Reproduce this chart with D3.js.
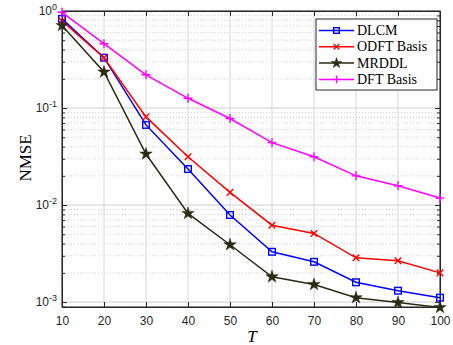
<!DOCTYPE html>
<html>
<head>
<meta charset="utf-8">
<script src="https://cdn.jsdelivr.net/npm/d3@7"></script>
<style>
body { margin: 0; background: #fff; }
svg { display: block; }
</style>
</head>
<body>
<svg id="chart" width="453" height="345"></svg>
<script>
var Tvals = [10, 20, 30, 40, 50, 60, 70, 80, 90, 100];
var dlcm  = [0.83, 0.33, 0.067, 0.0235, 0.0079, 0.0033, 0.0026, 0.0016, 0.00131, 0.00111];
var odft  = [0.79, 0.33, 0.081, 0.0315, 0.0135, 0.0062, 0.0051, 0.00286, 0.00267, 0.0020];
var mrddl = [0.71, 0.235, 0.0336, 0.0082, 0.0039, 0.00182, 0.00152, 0.00111, 0.00099, 0.00088];
var dft   = [0.97, 0.46, 0.22, 0.126, 0.078, 0.044, 0.0315, 0.020, 0.0158, 0.0118];
var seriesNames = ["DLCM", "ODFT Basis", "MRDDL", "DFT Basis"];
var yTickExp = [0, -1, -2, -3];

var series = [
  {name: seriesNames[0], vals: dlcm, color: "#0000ff", marker: "square"},
  {name: seriesNames[1], vals: odft, color: "#ff0000", marker: "x"},
  {name: seriesNames[2], vals: mrddl, color: "#2b2b14", marker: "star"},
  {name: seriesNames[3], vals: dft, color: "#ff00ff", marker: "plus"}
];

var svg = d3.select("#chart");
var pLeft = 62, pRight = 440, pTop = 11, pBottom = 307;

var x = d3.scaleLinear().domain([10, 100]).range([pLeft, pRight]);
var y = d3.scaleLog().domain([0.00089, 1]).range([pBottom, pTop]);

// grid
var g = svg.append("g");
var minors = [];
for (var e = -4; e < 0; e++) {
  for (var m = 2; m <= 9; m++) {
    var v = m * Math.pow(10, e);
    if (v > 0.00089 && v < 1) minors.push(v);
  }
}
g.selectAll(".minor").data(minors).enter().append("line")
  .attr("x1", pLeft).attr("x2", pRight)
  .attr("y1", function(d){ return y(d); }).attr("y2", function(d){ return y(d); })
  .attr("stroke", "#c4c4c4").attr("stroke-width", 0.8).attr("stroke-dasharray", "1,2");
g.selectAll(".majy").data(yTickExp).enter().append("line")
  .attr("x1", pLeft).attr("x2", pRight)
  .attr("y1", function(d){ return y(Math.pow(10, d)); }).attr("y2", function(d){ return y(Math.pow(10, d)); })
  .attr("stroke", "#dedede").attr("stroke-width", 1.5);
g.selectAll(".majx").data(Tvals).enter().append("line")
  .attr("y1", pTop).attr("y2", pBottom)
  .attr("x1", function(d){ return x(d); }).attr("x2", function(d){ return x(d); })
  .attr("stroke", "#dedede").attr("stroke-width", 1.2);

// axes
var xAxis = d3.axisBottom(x).tickValues(Tvals).tickSizeInner(-5).tickSizeOuter(0).tickPadding(9);
var xa = svg.append("g").attr("transform", "translate(0," + pBottom + ")").call(xAxis);
var xTop = d3.axisTop(x).tickValues(Tvals).tickSizeInner(-5).tickSizeOuter(0).tickFormat("");
svg.append("g").attr("transform", "translate(0," + pTop + ")").call(xTop);

var majVals = yTickExp.map(function(d){ return Math.pow(10, d); });
svg.append("g").attr("transform", "translate(" + pLeft + ",0)")
  .call(d3.axisLeft(y).tickValues(majVals).tickSizeInner(-5).tickSizeOuter(0).tickFormat(""));
svg.append("g").attr("transform", "translate(" + pRight + ",0)")
  .call(d3.axisRight(y).tickValues(majVals).tickSizeInner(-5).tickSizeOuter(0).tickFormat(""));
svg.append("g").attr("transform", "translate(" + pLeft + ",0)")
  .call(d3.axisLeft(y).tickValues(minors).tickSizeInner(-3).tickSizeOuter(0).tickFormat(""));
svg.append("g").attr("transform", "translate(" + pRight + ",0)")
  .call(d3.axisRight(y).tickValues(minors).tickSizeInner(-3).tickSizeOuter(0).tickFormat(""));

svg.selectAll(".domain").attr("stroke", "#262626").attr("stroke-width", 1);
svg.selectAll(".tick line").attr("stroke", "#262626");
xa.selectAll("text").attr("font-family", "Liberation Sans, Arial, sans-serif")
  .attr("font-size", 12).attr("fill", "#262626");

// y tick labels 10^e
var yl = svg.append("g");
yTickExp.forEach(function(ex) {
  var t = yl.append("text")
    .attr("x", pLeft - 5).attr("y", y(Math.pow(10, ex)) + 4)
    .attr("text-anchor", "end")
    .attr("font-family", "Liberation Sans, Arial, sans-serif")
    .attr("font-size", 12).attr("fill", "#262626");
  t.append("tspan").text("10");
  t.append("tspan").attr("dy", -5).attr("font-size", 9).text(ex === 0 ? "0" : String(ex));
});

// frame
svg.append("rect").attr("x", pLeft).attr("y", pTop)
  .attr("width", pRight - pLeft).attr("height", pBottom - pTop)
  .attr("fill", "none").attr("stroke", "#262626").attr("stroke-width", 1);

// markers
function drawMarker(sel, type, color, cx, cy, k) {
  k = k || 1;
  if (type === "square") {
    var h = 3.3 * k;
    sel.append("rect").attr("x", cx - h).attr("y", cy - h).attr("width", 2 * h).attr("height", 2 * h)
      .attr("fill", "none").attr("stroke", color).attr("stroke-width", 1.4);
  } else if (type === "x") {
    var a = 3.3 * k;
    sel.append("path").attr("d", "M" + (cx - a) + "," + (cy - a) + "L" + (cx + a) + "," + (cy + a) +
      "M" + (cx - a) + "," + (cy + a) + "L" + (cx + a) + "," + (cy - a))
      .attr("stroke", color).attr("stroke-width", 1.4);
  } else if (type === "plus") {
    var p = 4.5 * k;
    sel.append("path").attr("d", "M" + (cx - p) + "," + cy + "L" + (cx + p) + "," + cy +
      "M" + cx + "," + (cy - p) + "L" + cx + "," + (cy + p))
      .attr("stroke", color).attr("stroke-width", 1.4);
  } else if (type === "star") {
    sel.append("path").attr("d", d3.symbol().type(d3.symbolStar).size(48 * k * k)())
      .attr("transform", "translate(" + cx + "," + cy + ")")
      .attr("fill", color).attr("stroke", color).attr("stroke-width", 0.5);
  }
}

var line = d3.line().x(function(d, i){ return x(Tvals[i]); }).y(function(d){ return y(d); });

var plot = svg.append("g");
series.forEach(function(s) {
  plot.append("path").attr("d", line(s.vals)).attr("fill", "none")
    .attr("stroke", s.color).attr("stroke-width", 1.5);
  s.vals.forEach(function(v, i) {
    drawMarker(plot, s.marker, s.color, x(Tvals[i]), y(v));
  });
});

// legend
var lg = svg.append("g");
lg.append("rect").attr("x", 316).attr("y", 19).attr("width", 121).attr("height", 71)
  .attr("fill", "#fff").attr("stroke", "#262626").attr("stroke-width", 1);
series.forEach(function(s, i) {
  var ly = 30.5 + i * 16.3;
  lg.append("line").attr("x1", 319).attr("x2", 354).attr("y1", ly).attr("y2", ly)
    .attr("stroke", s.color).attr("stroke-width", 1.5);
  drawMarker(lg, s.marker, s.color, 336.5, ly, 0.85);
  lg.append("text").attr("x", 357).attr("y", ly + 4.5)
    .attr("font-family", "Liberation Serif, Times New Roman, serif")
    .attr("font-size", 14).attr("fill", "#000").text(s.name);
});

// axis labels
svg.append("text").attr("transform", "translate(31," + 158 + ") rotate(-90)")
  .attr("text-anchor", "middle")
  .attr("font-family", "Liberation Serif, Times New Roman, serif")
  .attr("font-size", 17).attr("fill", "#000").text("NMSE");
svg.append("text").attr("x", 252).attr("y", 342)
  .attr("text-anchor", "middle")
  .attr("font-family", "Liberation Serif, Times New Roman, serif")
  .attr("font-style", "italic")
  .attr("font-size", 17).attr("fill", "#000").text("T");
</script>
</body>
</html>
